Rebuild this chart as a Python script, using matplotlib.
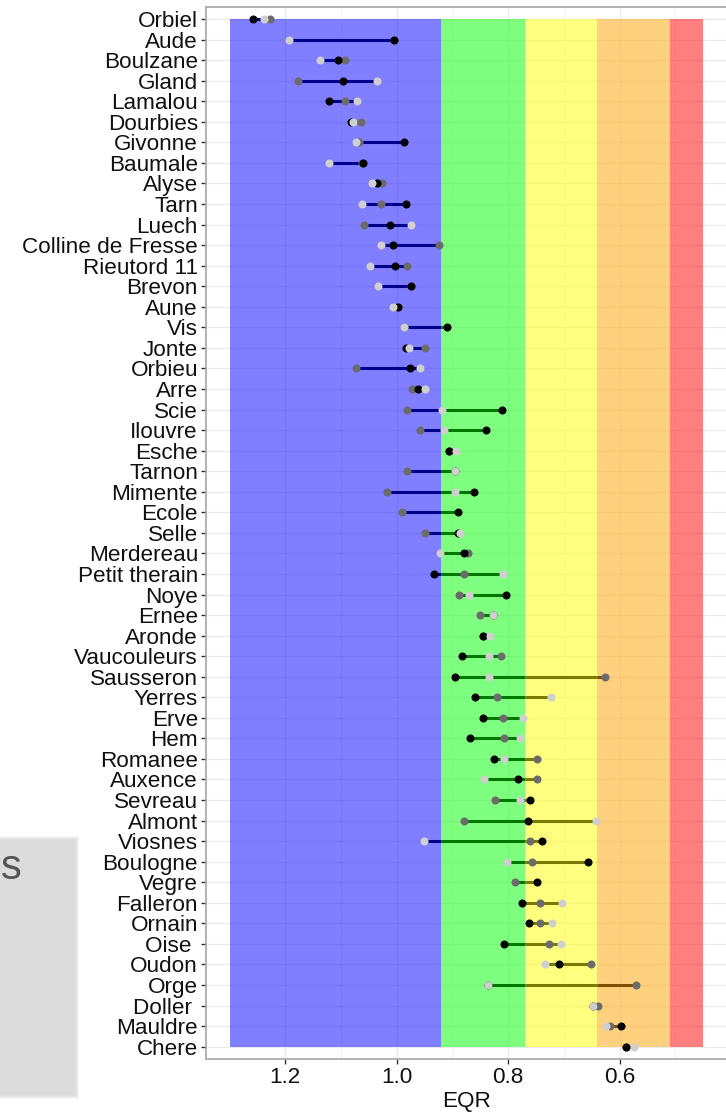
import numpy as np
import matplotlib
matplotlib.use("Agg")
import matplotlib.pyplot as plt
from matplotlib.patches import Rectangle

# ---------------- data ----------------
rivers = ["Orbiel", "Aude", "Boulzane", "Gland", "Lamalou", "Dourbies", "Givonne",
          "Baumale", "Alyse", "Tarn", "Luech", "Colline de Fresse", "Rieutord 11",
          "Brevon", "Aune", "Vis", "Jonte", "Orbieu", "Arre", "Scie", "Ilouvre",
          "Esche", "Tarnon", "Mimente", "Ecole", "Selle", "Merdereau",
          "Petit therain", "Noye", "Ernee", "Aronde", "Vaucouleurs", "Sausseron",
          "Yerres", "Erve", "Hem", "Romanee", "Auxence", "Sevreau", "Almont",
          "Viosnes", "Boulogne", "Vegre", "Falleron", "Ornain", "Oise ", "Oudon",
          "Orge", "Doller ", "Mauldre", "Chere"]

eqr_black = [1.258, 1.005, 1.105, 1.097, 1.122, 1.083, 0.987, 1.060, 1.036,
             0.983, 1.012, 1.007, 1.004, 0.974, 0.998, 0.909, 0.983, 0.977,
             0.962, 0.811, 0.840, 0.907, 0.895, 0.862, 0.890, 0.890, 0.880,
             0.934, 0.804, 0.828, 0.845, 0.883, 0.895, 0.860, 0.845, 0.868,
             0.825, 0.782, 0.760, 0.764, 0.740, 0.657, 0.748, 0.775, 0.763,
             0.808, 0.708, 0.836, 0.647, 0.598, 0.589]
eqr_dark = [1.227, 1.005, 1.093, 1.178, 1.093, 1.065, 1.067, 1.063, 1.026,
            1.028, 1.059, 0.924, 0.982, 0.974, 0.998, 0.987, 0.950, 1.074,
            0.973, 0.982, 0.959, 0.906, 0.982, 1.018, 0.990, 0.950, 0.873,
            0.880, 0.889, 0.851, 0.845, 0.813, 0.626, 0.820, 0.809, 0.808,
            0.749, 0.748, 0.823, 0.880, 0.761, 0.757, 0.788, 0.742, 0.742,
            0.726, 0.651, 0.571, 0.639, 0.617, 0.589]
eqr_light = [1.238, 1.193, 1.138, 1.035, 1.071, 1.079, 1.074, 1.121, 1.045,
             1.062, 0.975, 1.028, 1.048, 1.034, 1.006, 0.987, 0.978, 0.959,
             0.949, 0.919, 0.916, 0.894, 0.895, 0.895, np.nan, 0.886, 0.923,
             0.810, 0.870, 0.828, 0.833, 0.835, 0.835, 0.724, 0.773, 0.778,
             0.807, 0.843, 0.779, 0.642, 0.952, 0.803, np.nan, 0.704, 0.721,
             0.706, 0.733, 0.836, 0.647, 0.625, 0.574]

class_bounds = [1.30, 0.92, 0.77, 0.64, 0.51, 0.45]
class_fill = ["#0000FF", "#00FF00", "#FFFF00", "#FFA500", "#FF0000"]
class_line = ["#00008B", "#007800", "#7A7A00", "#7F4E00", "#8B0000"]

x_ticks = [1.2, 1.0, 0.8, 0.6]
x_minor = [1.1, 0.9, 0.7, 0.5]

# ---------------- figure ----------------
W, H = 726, 1115
fig = plt.figure(figsize=(W / 100, H / 100), dpi=100)
plt.rcParams["font.family"] = ["Liberation Sans", "DejaVu Sans"]

left_px, right_px, top_px, bot_px = 206.0, 726.8, 6.7, 1059.0
ax = fig.add_axes([left_px / W, 1 - bot_px / H,
                   (right_px - left_px) / W, (bot_px - top_px) / H])

n = len(rivers)
y = np.arange(n)

ax.set_xlim(1.3425, 0.4075)
ax.set_ylim(n - 1 + 0.6, -0.6)

# grid
ax.set_axisbelow(True)
ax.set_xticks(x_ticks)
ax.set_xticks(x_minor, minor=True)
ax.set_yticks(y)
ax.set_yticklabels(rivers)
ax.grid(True, which="major", color="#EBEBEB", lw=1.0)
ax.grid(True, which="minor", axis="x", color="#F2F2F2", lw=0.6)

# quality class bands
for k in range(len(class_fill)):
    ax.add_patch(Rectangle((class_bounds[k + 1], 0),
                           class_bounds[k] - class_bounds[k + 1], n - 1,
                           facecolor=class_fill[k], alpha=0.5, lw=0, zorder=1))

# range lines coloured by class
B = np.array(eqr_black, float)
D = np.array(eqr_dark, float)
L = np.array(eqr_light, float)
allv = np.vstack([B, D, L])
lo = np.nanmin(allv, axis=0)
hi = np.nanmax(allv, axis=0)
for i in range(n):
    for k in range(len(class_fill)):
        a = max(lo[i], class_bounds[k + 1])
        b = min(hi[i], class_bounds[k])
        if b > a:
            ax.plot([a, b], [y[i], y[i]], color=class_line[k], lw=2.2,
                    solid_capstyle="butt", zorder=3)

ms = 5.8
ax.plot(D, y, "o", color="#6B6B6B", ms=ms, mew=0, zorder=4)
ax.plot(B, y, "o", color="#000000", ms=ms, mew=0, zorder=5)
ax.plot(L, y, "o", color="#CFCFCF", ms=ms, mew=0, zorder=6)

for s in ax.spines.values():
    s.set_color("#A6A6A6")
    s.set_linewidth(1.2)

ax.tick_params(axis="both", which="major", length=3.6, width=1.0,
               color="#333333", labelsize=16.2, labelcolor="#111111", pad=2.2)
ax.tick_params(axis="both", which="minor", length=0)
ax.set_xticklabels([f"{v:.1f}" for v in x_ticks])
ax.set_xlabel("EQR", fontsize=16.2, color="#111111", labelpad=2)

# overlapping grey box at lower left (partial legend / popup)
for j, a in enumerate([0.25, 0.35, 0.5, 0.7]):
    d = 4 - j
    fig.add_artist(Rectangle((0, 1 - (1095 + d) / H), (75 + d) / W,
                             (255 + 2 * d) / H, transform=fig.transFigure,
                             facecolor="#DDDDDD", alpha=a, lw=0, zorder=-1))
fig.add_artist(Rectangle((0, 1 - 1095 / H), 75 / W, 255 / H,
                         transform=fig.transFigure, facecolor="#DCDCDC",
                         lw=0, zorder=-1))
fig.text(0.5 / W, 1 - 868 / H, "s", fontsize=30, color="#555555",
         va="center", ha="left")

fig.savefig("out.png", dpi=100)
